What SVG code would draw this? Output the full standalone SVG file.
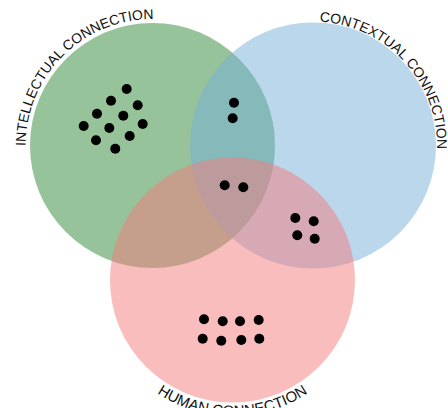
<svg xmlns="http://www.w3.org/2000/svg" width="448" height="408" viewBox="0 0 448 408">
  <style>
    .set { fill-opacity: 0.5; }
    .label { font-family: "Liberation Sans", Arial, sans-serif; font-size: 14px; fill: #111; }
    .dot { fill: #000; }
  </style>
  <defs>
    <!-- label arcs, a little outside each circle -->
    <path id="arc-intellectual" d="M 25.5 146 A 127 127 0 0 1 152.5 19"/>
    <path id="arc-contextual" d="M 319.5 21.7 A 124 124 0 0 1 435.1 167"/>
    <path id="arc-human" d="M 96.5 280 A 136 136 0 0 0 368.5 280"/>
  </defs>
  <rect width="448" height="408" fill="#fff"/>

  <g id="intellectual">
    <circle class="set" cx="152.5" cy="145.5" r="122.5" fill="#2f8738"/>
    <text class="label"><textPath href="#arc-intellectual">INTELLECTUAL CONNECTION</textPath></text>
  </g>
  <g id="contextual">
    <circle class="set" cx="313" cy="145.5" r="123" fill="#75afd9"/>
    <text class="label"><textPath href="#arc-contextual">CONTEXTUAL CONNECTION</textPath></text>
  </g>
  <g id="human">
    <circle class="set" cx="232.5" cy="280" r="122.5" fill="#f37b7d"/>
    <text class="label" style="font-size:15px" text-anchor="middle"><textPath href="#arc-human" startOffset="50%">HUMAN CONNECTION</textPath></text>
  </g>

  <!-- dots per region -->
  <g id="dots-intellectual">
    <circle class="dot" cx="126.7" cy="89" r="5"/>
    <circle class="dot" cx="111" cy="100.7" r="5"/>
    <circle class="dot" cx="137.7" cy="105.3" r="5"/>
    <circle class="dot" cx="97" cy="113.7" r="5"/>
    <circle class="dot" cx="123.3" cy="115.7" r="5"/>
    <circle class="dot" cx="142.7" cy="124" r="5"/>
    <circle class="dot" cx="83.7" cy="126" r="5"/>
    <circle class="dot" cx="109.3" cy="128" r="5"/>
    <circle class="dot" cx="129.7" cy="136" r="5"/>
    <circle class="dot" cx="96" cy="140.3" r="5"/>
    <circle class="dot" cx="115.3" cy="148.7" r="5"/>
  </g>
  <g id="dots-intellectual-contextual">
    <circle class="dot" cx="234" cy="102.7" r="5"/>
    <circle class="dot" cx="232.7" cy="118.3" r="5"/>
  </g>
  <g id="dots-all">
    <circle class="dot" cx="224.7" cy="185.3" r="5"/>
    <circle class="dot" cx="243.3" cy="187.3" r="5"/>
  </g>
  <g id="dots-contextual-human">
    <circle class="dot" cx="295.3" cy="218" r="5"/>
    <circle class="dot" cx="313.7" cy="221.3" r="5"/>
    <circle class="dot" cx="297.3" cy="235.3" r="5"/>
    <circle class="dot" cx="314.7" cy="238.7" r="5"/>
  </g>
  <g id="dots-human">
    <circle class="dot" cx="204" cy="319.3" r="5"/>
    <circle class="dot" cx="222.7" cy="321.3" r="5"/>
    <circle class="dot" cx="240" cy="321.3" r="5"/>
    <circle class="dot" cx="258.7" cy="320" r="5"/>
    <circle class="dot" cx="202.7" cy="338.7" r="5"/>
    <circle class="dot" cx="221.3" cy="340.7" r="5"/>
    <circle class="dot" cx="241.3" cy="340" r="5"/>
    <circle class="dot" cx="259.3" cy="338.7" r="5"/>
  </g>
</svg>
